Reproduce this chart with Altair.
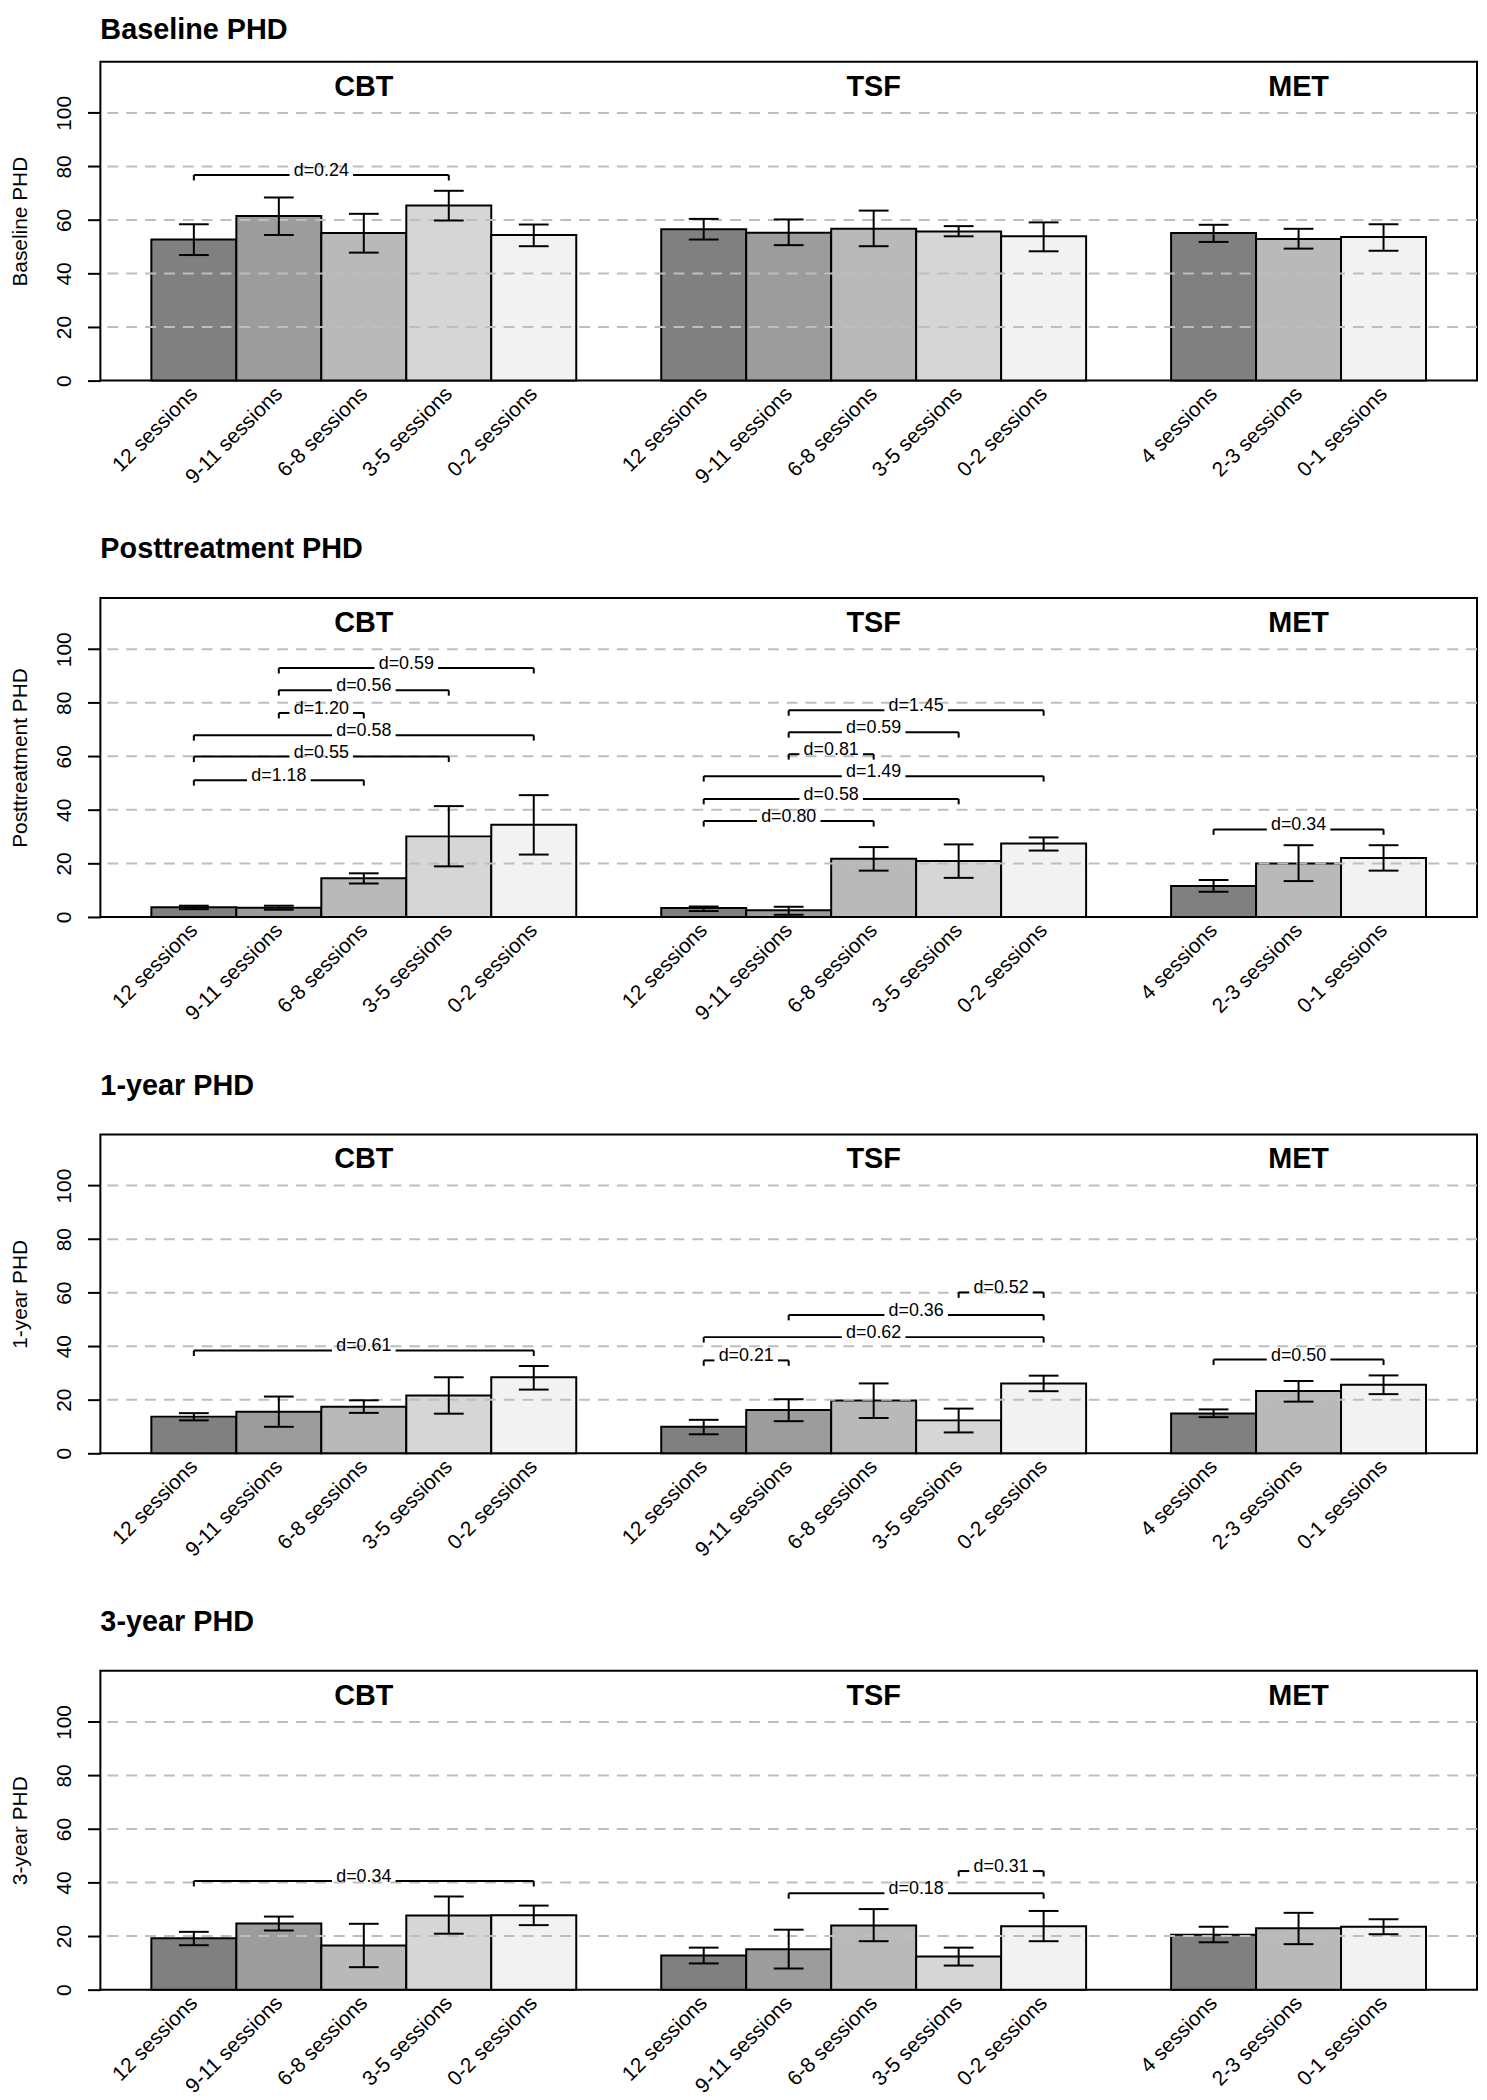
import json
import altair as alt
import pandas as pd

# ---------------- data ----------------
groups = ["CBT"] * 5 + ["TSF"] * 5 + ["MET"] * 3
sessions = [
    "12 sessions", "9-11 sessions", "6-8 sessions", "3-5 sessions", "0-2 sessions",
    "12 sessions", "9-11 sessions", "6-8 sessions", "3-5 sessions", "0-2 sessions",
    "4 sessions", "2-3 sessions", "0-1 sessions",
]
panel_titles = ["Baseline PHD", "Posttreatment PHD", "1-year PHD", "3-year PHD"]
y_ticks = [0, 20, 40, 60, 80, 100]
grid_values = [20, 40, 60, 80, 100]

baseline_mean = [52.7, 61.5, 55.1, 65.4, 54.4, 56.5, 55.2, 56.7, 55.7, 53.9, 55.1, 52.9, 53.6]
baseline_lo = [46.9, 54.4, 47.8, 59.8, 50.2, 52.7, 50.6, 50.2, 53.9, 48.3, 51.8, 49.3, 48.5]
baseline_hi = [58.4, 68.4, 62.3, 70.9, 58.3, 60.4, 60.2, 63.5, 57.7, 59.1, 58.2, 56.7, 58.4]

post_mean = [3.6, 3.4, 14.5, 30.1, 34.4, 3.3, 2.5, 21.7, 20.9, 27.4, 11.6, 20.0, 22.0]
post_lo = [2.9, 2.7, 12.5, 18.9, 23.3, 2.2, 0.8, 17.3, 14.6, 24.8, 9.4, 13.4, 17.3]
post_hi = [4.2, 4.2, 16.3, 41.4, 45.5, 3.9, 3.8, 26.1, 27.1, 29.7, 13.8, 26.8, 26.8]

year1_mean = [13.7, 15.5, 17.4, 21.6, 28.4, 9.9, 16.2, 19.7, 12.3, 26.1, 14.9, 23.3, 25.6]
year1_lo = [12.3, 9.9, 15.1, 14.8, 23.8, 7.1, 12.0, 13.2, 7.8, 23.2, 13.5, 19.3, 22.1]
year1_hi = [15.0, 21.2, 19.8, 28.4, 32.6, 12.5, 20.2, 26.1, 16.7, 29.0, 16.4, 27.0, 29.1]

year3_mean = [19.2, 24.7, 16.5, 27.7, 27.8, 12.8, 15.1, 24.0, 12.4, 23.7, 20.5, 22.9, 23.5]
year3_lo = [16.6, 22.1, 8.4, 20.9, 24.1, 9.8, 7.9, 18.1, 9.0, 18.1, 17.7, 17.0, 20.7]
year3_hi = [21.6, 27.3, 24.6, 34.8, 31.4, 15.7, 22.4, 30.1, 15.7, 29.4, 23.5, 28.7, 26.3]

# effect-size brackets: (from bar, to bar) indices into the bar lists above
baseline_pairs = [(0, 3)]
baseline_heights = [76.8]
baseline_labels = ["d=0.24"]

post_pairs = [(1, 4), (1, 3), (1, 2), (0, 4), (0, 3), (0, 2),
              (6, 9), (6, 8), (6, 7), (5, 9), (5, 8), (5, 7),
              (10, 12)]
post_heights = [93.0, 84.7, 76.2, 67.9, 59.9, 51.1,
                77.2, 69.0, 60.8, 52.6, 44.1, 35.8,
                32.7]
post_labels = ["d=0.59", "d=0.56", "d=1.20", "d=0.58", "d=0.55", "d=1.18",
               "d=1.45", "d=0.59", "d=0.81", "d=1.49", "d=0.58", "d=0.80",
               "d=0.34"]

year1_pairs = [(0, 4), (8, 9), (6, 9), (5, 9), (5, 6), (10, 12)]
year1_heights = [38.4, 60.1, 51.7, 43.4, 34.7, 35.0]
year1_labels = ["d=0.61", "d=0.52", "d=0.36", "d=0.62", "d=0.21", "d=0.50"]

year3_pairs = [(0, 4), (8, 9), (6, 9)]
year3_heights = [40.6, 44.3, 36.0]
year3_labels = ["d=0.34", "d=0.31", "d=0.18"]

# ---------------- layout / style ----------------
FONT = "Liberation Sans, Arial, Helvetica, sans-serif"
PLOT_W = 1386
PLOT_H = 321
Y_MAX = 119.1
BAR_W = 1.0
CAP_PX = 30
GAP_PX = 32
TICK_PX = 5.5


def bar_positions(grps):
    pos, cur, prev = [], 0, None
    for g in grps:
        if prev is not None and g != prev:
            cur += 1
        pos.append(cur)
        cur += 1
        prev = g
    return pos


positions = bar_positions(groups)
span_lo = min(positions) - BAR_W / 2
span_hi = max(positions) + BAR_W / 2
ext = 0.04 * (span_hi - span_lo)
X_MIN, X_MAX = span_lo - ext, span_hi + ext
px_per_x = PLOT_W / (X_MAX - X_MIN)
px_per_y = PLOT_H / Y_MAX


def shades():
    cols = []
    seen = {}
    for g in groups:
        k = seen.get(g, 0)
        n = groups.count(g)
        lvl = 0.5 + 0.45 * k / (n - 1)
        v = int(round(lvl * 255))
        cols.append("#%02x%02x%02x" % (v, v, v))
        seen[g] = k + 1
    return cols


fills = shades()

label_arr = [""] * (max(positions) + 1)
for p, s in zip(positions, sessions):
    label_arr[p] = s
label_expr = json.dumps(label_arr) + "[datum.value]"

group_names = []
for g in groups:
    if g not in group_names:
        group_names.append(g)
group_centers = [
    sum(p for p, gg in zip(positions, groups) if gg == g) / groups.count(g)
    for g in group_names
]

xs = alt.Scale(domain=[X_MIN, X_MAX], nice=False, zero=False)
ys = alt.Scale(domain=[0, Y_MAX], nice=False, zero=False)


def panel(title, mean, lo, hi, pairs, heights, labels, first):
    half_cap = CAP_PX / 2 / px_per_x
    df = pd.DataFrame({
        "group": groups,
        "session": sessions,
        "pos": positions,
        "x0": [p - BAR_W / 2 for p in positions],
        "x1": [p + BAR_W / 2 for p in positions],
        "c0": [p - half_cap for p in positions],
        "c1": [p + half_cap for p in positions],
        "zero": [0] * len(positions),
        "mean": mean,
        "lo": lo,
        "hi": hi,
        "fill": fills,
    })
    gap = GAP_PX / px_per_x
    tick = TICK_PX / px_per_y
    bdf = pd.DataFrame({
        "a": [positions[i] for i, j in pairs],
        "b": [positions[j] for i, j in pairs],
        "h": heights,
        "label": labels,
    })
    bdf["mid"] = (bdf["a"] + bdf["b"]) / 2
    bdf["ga"] = bdf["mid"] - gap
    bdf["gb"] = bdf["mid"] + gap
    bdf["ht"] = bdf["h"] - tick

    xaxis = alt.Axis(
        values=positions, labelExpr=label_expr, labelAngle=-45,
        labelAlign="right", labelBaseline="middle", labelPadding=10,
        labelFontSize=21, labelFont=FONT, labelColor="black",
        labelOverlap=False, labelFlush=False, ticks=False, domain=False,
        grid=False, title=None,
    )
    yaxis = alt.Axis(
        values=y_ticks, labelAngle=-90, labelAlign="center",
        labelBaseline="bottom", labelPadding=13, labelFontSize=21,
        labelFont=FONT, labelColor="black", labelFlush=False,
        labelOverlap=False, tickSize=13, tickWidth=2, tickColor="black",
        domain=False, grid=False, title=title, titleFontSize=21,
        titleFont=FONT, titleFontWeight="normal", titleColor="black",
        titlePadding=23,
    )

    def X(field):
        return alt.X(field, type="quantitative", scale=xs, axis=xaxis)

    def Y(field):
        return alt.Y(field, type="quantitative", scale=ys, axis=yaxis)

    base = alt.Chart(df)
    grid = alt.Chart(pd.DataFrame({"g": grid_values})).mark_rule(
        color="#bebebe", strokeWidth=2, strokeDash=[11, 8]
    ).encode(y=Y("g"))

    bars = base.mark_rect(stroke="black", strokeWidth=2).encode(
        x=X("x0"), x2="x1:Q",
        y=Y("zero"), y2="mean:Q",
        fill=alt.Fill("fill:N", scale=None),
    )
    err = base.mark_rule(color="black", strokeWidth=2).encode(
        x=X("pos"), y=Y("lo"), y2="hi:Q",
    )
    cap_lo = base.mark_rule(color="black", strokeWidth=2).encode(
        x=X("c0"), x2="c1:Q", y=Y("lo"),
    )
    cap_hi = base.mark_rule(color="black", strokeWidth=2).encode(
        x=X("c0"), x2="c1:Q", y=Y("hi"),
    )

    bb = alt.Chart(bdf)
    seg_a = bb.mark_rule(color="black", strokeWidth=2).encode(
        x=X("a"), x2="ga:Q", y=Y("h"),
    )
    seg_b = bb.mark_rule(color="black", strokeWidth=2).encode(
        x=X("gb"), x2="b:Q", y=Y("h"),
    )
    tick_a = bb.mark_rule(color="black", strokeWidth=2).encode(
        x=X("a"), y=Y("h"), y2="ht:Q",
    )
    tick_b = bb.mark_rule(color="black", strokeWidth=2).encode(
        x=X("b"), y=Y("h"), y2="ht:Q",
    )
    dtext = bb.mark_text(
        font=FONT, fontSize=18, color="black", baseline="alphabetic", dy=1
    ).encode(
        x=X("mid"), y=Y("h"), text="label:N",
    )

    gtext = alt.Chart(
        pd.DataFrame({"name": group_names, "c": group_centers})
    ).mark_text(
        font=FONT, fontSize=29, fontWeight="bold", color="black",
        baseline="alphabetic",
    ).encode(
        x=X("c"), y=alt.value(34), text="name:N",
    )

    return alt.layer(
        bars, grid, err, cap_lo, cap_hi, seg_a, seg_b, tick_a, tick_b, dtext, gtext
    ).properties(
        width=PLOT_W, height=PLOT_H,
        title=alt.TitleParams(
            text=title, anchor="start", frame="group", fontSize=29,
            font=FONT, fontWeight="bold", color="black",
            offset=17 if first else 34,
        ),
    )


panels = [
    panel(panel_titles[0], baseline_mean, baseline_lo, baseline_hi,
          baseline_pairs, baseline_heights, baseline_labels, True),
    panel(panel_titles[1], post_mean, post_lo, post_hi,
          post_pairs, post_heights, post_labels, False),
    panel(panel_titles[2], year1_mean, year1_lo, year1_hi,
          year1_pairs, year1_heights, year1_labels, False),
    panel(panel_titles[3], year3_mean, year3_lo, year3_hi,
          year3_pairs, year3_heights, year3_labels, False),
]

chart = alt.vconcat(*panels, spacing=46).properties(
    padding=0
).configure(font=FONT).configure_view(stroke="black", strokeWidth=2)

chart.save("out.html", embed_options={"renderer": "svg", "actions": False})
